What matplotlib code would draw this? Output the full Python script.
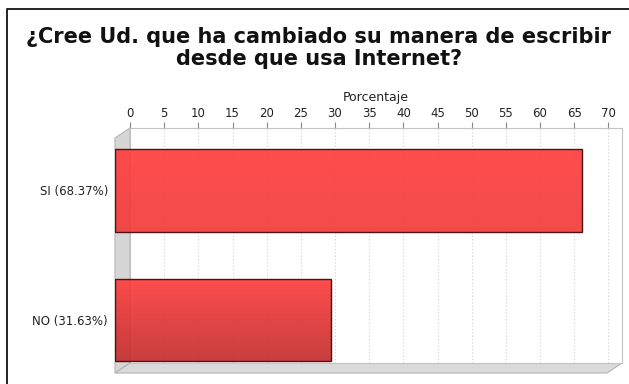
import matplotlib

matplotlib.use("Agg")
import matplotlib.pyplot as plt  # noqa: E402
import numpy as np  # noqa: E402
from matplotlib.patches import Polygon  # noqa: E402
from matplotlib.colors import LinearSegmentedColormap  # noqa: E402

W, H = 629, 384

categories = ["SI (68.37%)", "NO (31.63%)"]
values = [68.37, 31.63]
ticks = list(range(0, 75, 5))

TITLE = "¿Cree Ud. que ha cambiado su manera de escribir\ndesde que usa Internet?"
WALL, WALL_EDGE, GRID = "#d6d6d6", "#b4b4b4", "#cfcfcf"
BAR_TOP, BAR_BOT, BAR_EDGE = "#ff4040", "#c43030", "#4a1414"


def px(x, y):
    return x / W, 1 - y / H


def box(x0, y0, x1, y1):
    # axes rect from pixel corners (top-left, bottom-right)
    return [x0 / W, 1 - y1 / H, (x1 - x0) / W, (y1 - y0) / H]


fig = plt.figure(figsize=(W / 100, H / 100), dpi=100)
fig.patch.set_facecolor("white")

# frame of the image (only left/top visible)
fig.add_artist(plt.Line2D(*zip(px(7, H), px(7, 9), px(W, 9)), transform=fig.transFigure,
                          color="#222222", linewidth=1.4))

fig.text(*px(319, 27), TITLE, ha="center", va="top", fontsize=15, fontweight="bold",
         linespacing=1.15, color="#111111")

# 3d side wall and floor
dx, dy = 15, 10
left, right, top, bot = 130, 622, 128, 363
for poly, fc in (
    ([px(left - dx, top + dy), px(left, top), px(left, bot), px(left - dx, bot + dy)], WALL),
    ([px(left - dx, bot + dy), px(left, bot), px(right, bot), px(right - dx, bot + dy)], "#dadada"),
):
    fig.add_artist(Polygon(poly, closed=True, transform=fig.transFigure, facecolor=fc,
                           edgecolor=WALL_EDGE, linewidth=0.8, zorder=-1))

# back wall: holds the value axis
back = fig.add_axes(box(left, top, right, bot), zorder=0)
back.set_xlim(0, 72)
back.set_ylim(0, 1)
back.set_yticks([])
back.xaxis.tick_top()
back.xaxis.set_label_position("top")
back.set_xticks(ticks)
back.tick_params(axis="x", length=4, width=0.8, color="#888888", pad=2, labelsize=8.5,
                 labelcolor="#222222")
back.set_xlabel("Porcentaje", fontsize=9, labelpad=4, color="#222222")
back.grid(axis="x", color=GRID, linestyle=(0, (1, 2)), linewidth=0.8)
for s in back.spines.values():
    s.set_color("#c4c4c4")
    s.set_linewidth(0.8)

# front face: the bars (slightly see-through, like the original)
front = fig.add_axes(box(left - dx, top + dy, right - dx, bot + dy), zorder=1)
front.patch.set_alpha(0)
ypos = np.arange(len(categories))
bars = front.barh(ypos, values, height=0.64, color=BAR_TOP, edgecolor=BAR_EDGE, linewidth=1.0,
                  zorder=2)
cmap = LinearSegmentedColormap.from_list("bar", [BAR_TOP, BAR_BOT])
for i, b in enumerate(bars):
    x0, y0 = b.get_x(), b.get_y()
    grad = np.linspace(0, 0.2 + 0.8 * i, 64).reshape(-1, 1)
    im = front.imshow(grad, cmap=cmap, vmin=0, vmax=1, aspect="auto", zorder=2.5, alpha=0.93,
                      extent=(x0, x0 + b.get_width(), y0, y0 + b.get_height()), origin="lower")
    im.set_clip_path(b)
    b.set_facecolor("none")
    b.set_zorder(3)
front.set_xlim(0, 72)
front.set_ylim(1.409, -0.405)
front.set_xticks([])
front.set_yticks(ypos, categories)
front.tick_params(axis="y", length=0, pad=5, labelsize=8.5, labelcolor="#222222")
for s in front.spines.values():
    s.set_visible(False)

fig.savefig("out.png", dpi=100)
